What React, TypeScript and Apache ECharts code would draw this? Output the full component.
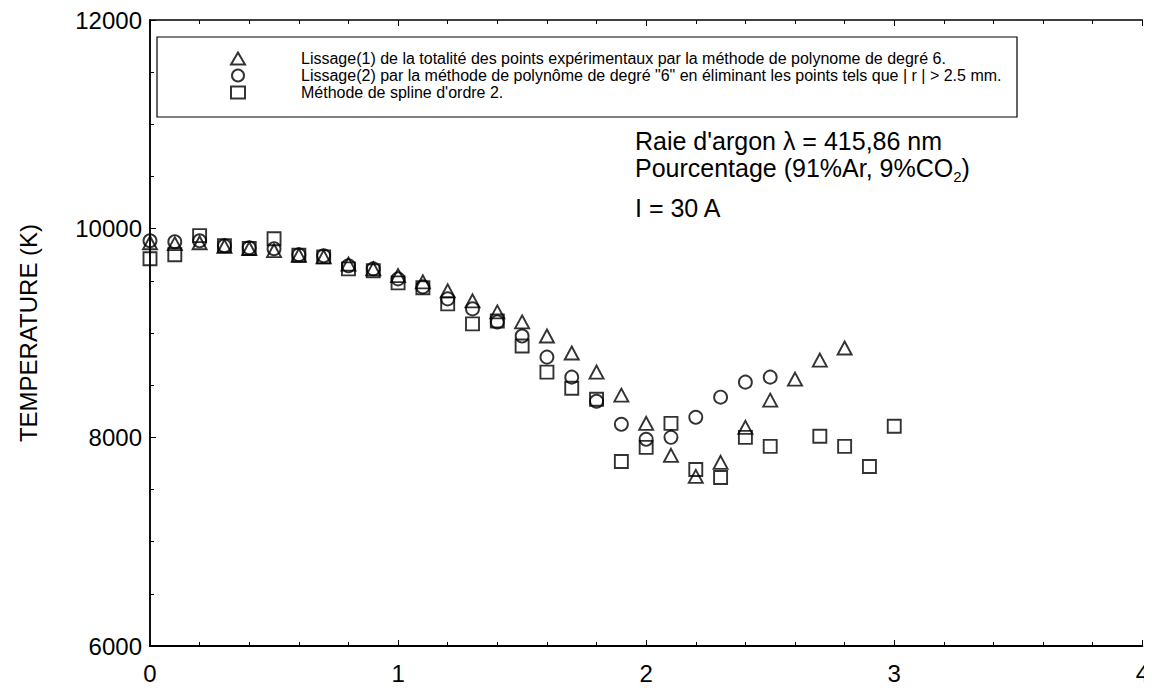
import React, { useEffect, useRef } from "react";
import * as echarts from "echarts";

const xValues = [0, 0.1, 0.2, 0.3, 0.4, 0.5, 0.6, 0.7, 0.8, 0.9, 1.0, 1.1, 1.2, 1.3, 1.4, 1.5, 1.6, 1.7, 1.8, 1.9, 2.0, 2.1, 2.2, 2.3, 2.4, 2.5, 2.6, 2.7, 2.8, 2.9, 3.0];

// Lissage(1) - triangles (x = 0 .. 2.8)
const triangleTemps = [9865, 9856, 9865, 9830, 9810, 9790, 9745, 9730, 9660, 9615, 9550, 9490, 9404, 9308, 9202, 9106, 8971, 8808, 8625, 8404, 8134, 7827, 7625, 7760, 8096, 8356, 8558, 8740, 8856];
// Lissage(2) - circles (x = 0 .. 2.5)
const circleTemps = [9884, 9875, 9884, 9836, 9817, 9808, 9750, 9740, 9644, 9615, 9519, 9442, 9327, 9231, 9106, 8971, 8769, 8577, 8346, 8125, 7981, 8000, 8192, 8385, 8529, 8577];
// Spline - squares (x = 0 .. 3.0, none at 2.6)
const squareTemps = [9711, 9750, 9933, 9836, 9810, 9904, 9745, 9730, 9615, 9596, 9480, 9433, 9279, 9087, 9115, 8875, 8625, 8471, 8365, 7769, 7904, 8134, 7692, 7615, 8000, 7913, null, 8010, 7913, 7721, 8106];

const seriesNames = [
  "Lissage(1) de la totalité des points expérimentaux par la méthode de polynome de degré 6.",
  "Lissage(2) par la méthode de polynôme de degré \"6\" en éliminant les points tels que | r | > 2.5 mm.",
  "Méthode de spline d'ordre 2.",
];

const yTicks = [6000, 8000, 10000, 12000];
const xTicks = [0, 1, 2, 3, 4];

const toPoints = (vals: (number | null)[]) =>
  vals
    .map((v, i) => (v === null ? null : [xValues[i], v]))
    .filter((p) => p !== null) as number[][];

const FONT = "Arial, 'Liberation Sans', sans-serif";

export default function App() {
  const ref = useRef<HTMLDivElement>(null);
  useEffect(() => {
    if (!ref.current) return;
    const chart = echarts.init(ref.current, undefined, { renderer: "svg" });
    const markerStyle = { color: "rgba(0,0,0,0)", borderColor: "#000", borderWidth: 1.9 };
    chart.setOption({
      animation: false,
      backgroundColor: "#fff",
      textStyle: { fontFamily: FONT, color: "#000" },
      grid: { left: 150, right: 8, top: 20, bottom: 45 },
      xAxis: [
        {
          type: "value",
          min: xTicks[0],
          max: xTicks[xTicks.length - 1],
          interval: 1,
          axisLine: { show: true, lineStyle: { color: "#000", width: 2 } },
          axisTick: { show: true, inside: true, length: 6, lineStyle: { color: "#000" } },
          minorTick: { show: true, splitNumber: 5, length: 4, lineStyle: { color: "#000" } },
          axisLabel: { fontSize: 24, color: "#000", margin: 15, fontFamily: FONT },
          splitLine: { show: false },
        },
        {
          type: "value",
          position: "top",
          min: xTicks[0],
          max: xTicks[xTicks.length - 1],
          interval: 1,
          axisLine: { show: true, lineStyle: { color: "#000", width: 1.5 } },
          axisTick: { show: true, inside: true, length: 6, lineStyle: { color: "#000" } },
          minorTick: { show: true, splitNumber: 5, length: 4, lineStyle: { color: "#000" } },
          axisLabel: { show: false },
          splitLine: { show: false },
        },
      ],
      yAxis: [
        {
          type: "value",
          min: yTicks[0],
          max: yTicks[yTicks.length - 1],
          interval: 2000,
          name: "TEMPERATURE (K)",
          nameLocation: "middle",
          nameRotate: 90,
          nameGap: 110,
          nameTextStyle: { fontSize: 24, color: "#000", fontFamily: FONT },
          axisLine: { show: true, lineStyle: { color: "#000", width: 1.5 } },
          axisTick: { show: true, inside: true, length: 6, lineStyle: { color: "#000" } },
          minorTick: { show: true, splitNumber: 4, length: 4, lineStyle: { color: "#000" } },
          axisLabel: {
            fontSize: 24,
            color: "#000",
            margin: 8,
            fontFamily: FONT,
            formatter: (v: number) => String(v),
          },
          splitLine: { show: false },
        },
        {
          type: "value",
          position: "right",
          min: yTicks[0],
          max: yTicks[yTicks.length - 1],
          interval: 2000,
          axisLine: { show: true, lineStyle: { color: "#000", width: 1.5 } },
          axisTick: { show: false },
          axisLabel: { show: false },
          splitLine: { show: false },
        },
      ],
      legend: {
        orient: "vertical",
        left: 230,
        top: 50,
        itemGap: 0,
        itemWidth: 14,
        itemHeight: 12,
        padding: 0,
        z: 10,
        textStyle: {
          fontSize: 16,
          lineHeight: 17,
          color: "#000",
          fontFamily: FONT,
          padding: [0, 0, 0, 51],
        },
        data: seriesNames,
      },
      graphic: [
        {
          type: "rect",
          z: 5,
          shape: { x: 157, y: 37, width: 860, height: 80 },
          style: { fill: "#fff", stroke: "#000", lineWidth: 1.2 },
        },
        {
          type: "text",
          left: 635,
          top: 128,
          style: { text: "Raie d'argon \u03bb = 415,86 nm", fontSize: 25, fontFamily: FONT, fill: "#000" },
        },
        {
          type: "text",
          left: 635,
          top: 155,
          style: {
            text: "Pourcentage (91%Ar, 9%CO{sub|2})",
            fontSize: 25,
            fontFamily: FONT,
            fill: "#000",
            rich: { sub: { fontSize: 15, fontFamily: FONT, fill: "#000", padding: [17, 0, 0, 0] } },
          },
        },
        {
          type: "text",
          left: 635,
          top: 195,
          style: { text: "I = 30 A", fontSize: 25, fontFamily: FONT, fill: "#000" },
        },
      ],
      series: [
        {
          name: seriesNames[0],
          type: "scatter",
          symbol: "triangle",
          symbolSize: [14, 13],
          itemStyle: markerStyle,
          data: toPoints(triangleTemps),
        },
        {
          name: seriesNames[1],
          type: "scatter",
          symbol: "circle",
          symbolSize: 13,
          itemStyle: markerStyle,
          data: toPoints(circleTemps),
        },
        {
          name: seriesNames[2],
          type: "scatter",
          symbol: "rect",
          symbolSize: 13,
          itemStyle: markerStyle,
          data: toPoints(squareTemps),
        },
      ],
    });
    return () => chart.dispose();
  }, []);
  return <div ref={ref} style={{ width: 1152, height: 691, margin: -8 }} />;
}
